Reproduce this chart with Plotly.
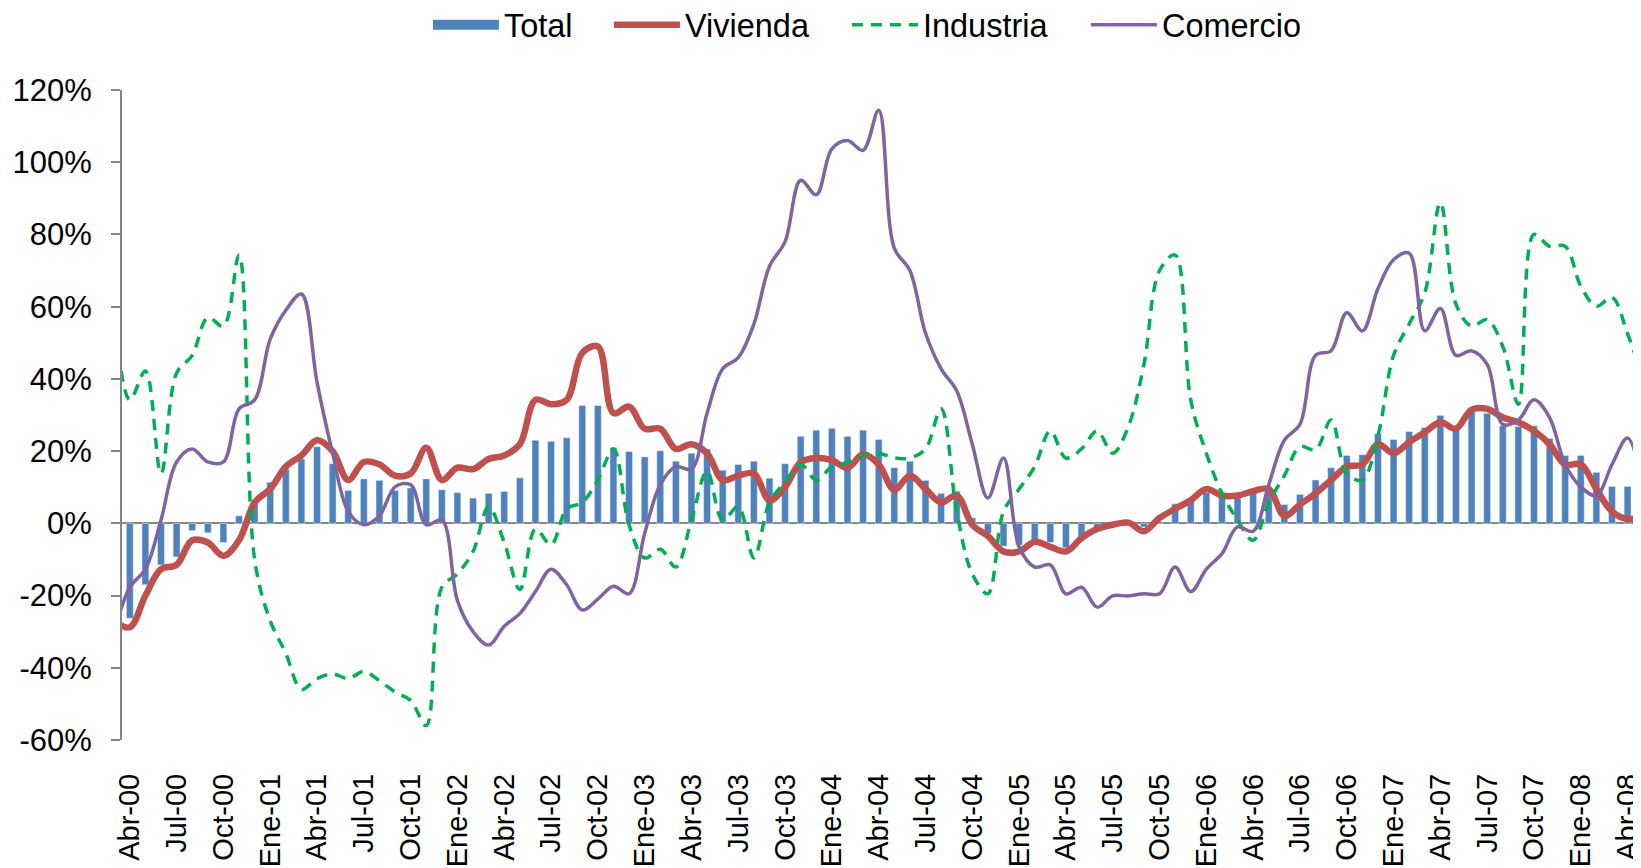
import plotly.graph_objects as go

month_abbr = ["Ene", "Feb", "Mar", "Abr", "May", "Jun", "Jul", "Ago", "Sep", "Oct", "Nov", "Dic"]

# Months from Mar-00 to May-08 (edges are clipped by the plot area)
months = []
yy, mm = 2000, 2
while (yy, mm) <= (2008, 4):
    months.append(f"{month_abbr[mm]}-{yy % 100:02d}")
    mm += 1
    if mm == 12:
        mm = 0
        yy += 1

tick_labels = months[1::3]

total = [None,
         -26.3, -17, -11.5, -9.3, -2, -2.6, -5.3, 2.1, 6, 11.4, 15, 17.8,
         21.2, 16.5, 9.1, 12.3, 11.9, 9.1, 9.8, 12.3, 9.3, 8.5, 7, 8.3,
         8.8, 12.6, 23, 22.7, 23.7, 32.6, 32.6, 21, 19.9, 18.4, 20.1, 17.2,
         19.4, 20.6, 14.7, 16.3, 17.2, 12.5, 16.5, 24.1, 25.8, 26.3, 24.1, 25.8,
         23.2, 15.4, 17.2, 11.9, 8.3, 8.9, 1.5, -2.8, -6.3, -6, -5.3, -5.3,
         -6.8, -4, -1.6, -1, -0.4, -1, 0.5, 5.4, 6.4, 8.5, 7.7, 7,
         8.3, 8.9, 5.2, 8, 12, 15.4, 18.8, 19, 24.8, 23.2, 25.4, 26.5,
         29.9, 26.8, 31.7, 30.5, 27, 26.8, 27, 23.5, 18.8, 18.8, 14.1, 10.2,
         10.2, 9]

vivienda = [-27,
            -28.8, -20, -12.7, -11.5, -4.7, -5.3, -9, -4.7, 5.8, 9.5, 15.7, 18.8,
            23, 20, 12, 17, 16.3, 13.2, 13.8, 20.9, 12, 15.4, 15, 17.8,
            18.8, 21.9, 34.2, 33, 34.2, 47.2, 49, 30.5, 32.3, 26.2, 26.2, 20.6,
            21.9, 19.4, 12, 13.2, 13.8, 6.4, 10.1, 16.9, 18.1, 17.5, 15.4, 19.1,
            16.3, 9.3, 13.2, 9.5, 5.8, 7.7, -0.4, -3.5, -7.8, -7.8, -5.1, -6.5,
            -7.8, -4.1, -1.6, -0.4, 0.2, -2.2, 1.5, 4, 6.4, 9.5, 7.7, 7.7,
            8.9, 9.5, 2.1, 5.2, 8.3, 12, 15.7, 16.3, 21.9, 19.4, 22.5, 25.2,
            28, 26.2, 31.5, 31.7, 29.3, 28, 25.6, 21.9, 16.3, 16.3, 9.5, 3.3,
            1.2, 2]

industria = [58,
             34.2, 42.2, 13.8, 41.6, 46.5, 57, 54.6, 74.3, -10, -27, -36, -46,
             -43, -41.7, -43, -41, -43.6, -46.7, -49, -56, -17.7, -14, -7.8, 4.6,
             -5.3, -18.3, -1.6, -5.9, 4, 5.8, 12, 20.6, -0.4, -9.6, -7.2, -12.1,
             0.9, 14.4, 0.9, 4.6, -9.6, 5.8, 11.4, 16.3, 12, 15.7, 16.9, 18.8,
             19.4, 18.1, 18.1, 20.6, 31.7, 3.3, -14, -19.5, 3.3, 9.5, 15.7, 25.6,
             18.1, 20.6, 25.6, 19.4, 26.8, 44, 70, 74.3, 34.2, 19.4, 8.3, 0.9,
             -4.7, 5.8, 13.2, 21.2, 20.4, 28.6, 13.8, 12, 24.3, 46.5, 55.2, 63.8,
             88.8, 60.7, 54.6, 56.4, 49, 33, 80, 76.7, 76.7, 65.7, 60.1, 62.6,
             52.5, 40]

comercio = [-30,
            -17.7, -12.7, 0.9, 17, 20.6, 17, 17, 31.7, 34.2, 51, 59, 63.5,
            39.1, 19.4, 3.3, -0.4, 2.1, 10.1, 10.7, -0.4, 0.9, -21.4, -30, -33.7,
            -28.5, -25, -18.9, -12.7, -17, -24, -21, -17.4, -19.5, -2.8, 10.7, 15.7,
            15, 30.5, 42.8, 45.9, 55.2, 71.2, 78, 95, 91, 103.7, 106, 103.3,
            114.4, 76.2, 70, 52.7, 42.8, 36.7, 21.9, 7, 18.1, -6.5, -12.1, -11.5,
            -19.5, -17.7, -23.2, -20.1, -20.1, -19.5, -19.5, -12.1, -18.9, -12.7, -8.4, -1,
            -2.2, 10.7, 23, 27.4, 46.5, 47.8, 58.3, 53.3, 65, 73, 74.8, 53.3,
            59.5, 46.5, 47.8, 44, 27.4, 28.6, 34.2, 29.3, 16.3, 10.1, 7.7, 16.3,
            23.6, 9]

y_ticks = [-60, -40, -20, 0, 20, 40, 60, 80, 100, 120]

BLUE = "#4F81BD"
RED = "#C0504D"
GREEN = "#00B050"
PURPLE = "#8064A2"
GREY = "#868686"
FONT = "Liberation Sans, Arial, sans-serif"

fig = go.Figure()

# legend stand-in for the bar series (wide rectangle like the original)
fig.add_trace(go.Scatter(x=[None], y=[None], mode="lines", name="Total",
                         line=dict(color=BLUE, width=15), showlegend=True,
                         legendwidth=100))
fig.add_trace(go.Bar(x=months, y=total, name="Total", marker_color=BLUE,
                     width=0.44, showlegend=False))
fig.add_trace(go.Scatter(x=months, y=vivienda, name="Vivienda", mode="lines",
                         line=dict(color=RED, width=6.5, shape="spline", smoothing=1.0),
                         legendwidth=157))
fig.add_trace(go.Scatter(x=months, y=industria, name="Industria", mode="lines",
                         line=dict(color=GREEN, width=3.5, dash="11px,8px",
                                   shape="spline", smoothing=1.0),
                         legendwidth=158))
fig.add_trace(go.Scatter(x=months, y=comercio, name="Comercio", mode="lines",
                         line=dict(color=PURPLE, width=3.5, shape="spline", smoothing=1.0),
                         legendwidth=140))

# the page body adds an 8px offset, so the figure is sized to fill the window exactly
fig.update_layout(
    width=1633, height=860,
    margin=dict(l=114, r=0, t=82, b=128, autoexpand=False),
    paper_bgcolor="white", plot_bgcolor="white",
    font=dict(family=FONT, size=30, color="black"),
    showlegend=True,
    legend=dict(orientation="h", x=0.2014, xanchor="left", y=1.1, yanchor="middle",
                font=dict(size=32.5), itemwidth=66, bgcolor="rgba(0,0,0,0)"),
)

fig.update_xaxes(
    type="category", range=[0.5, 97.86],
    tickmode="array", tickvals=tick_labels, ticktext=tick_labels,
    tickangle=-90, ticks="", showline=False, showgrid=False, zeroline=False,
    tickfont=dict(size=29), ticklabelstandoff=27, automargin=False,
)
fig.update_yaxes(
    range=[-60, 120], tickmode="array", tickvals=y_ticks,
    ticktext=[f"{v}%" for v in y_ticks],
    showline=True, linecolor=GREY, linewidth=2,
    ticks="outside", ticklen=9, tickwidth=2, tickcolor=GREY,
    showgrid=False, zeroline=True, zerolinecolor=GREY, zerolinewidth=2,
    tickfont=dict(size=31), ticklabelstandoff=13, automargin=False,
)

fig.write_html("out.html")
